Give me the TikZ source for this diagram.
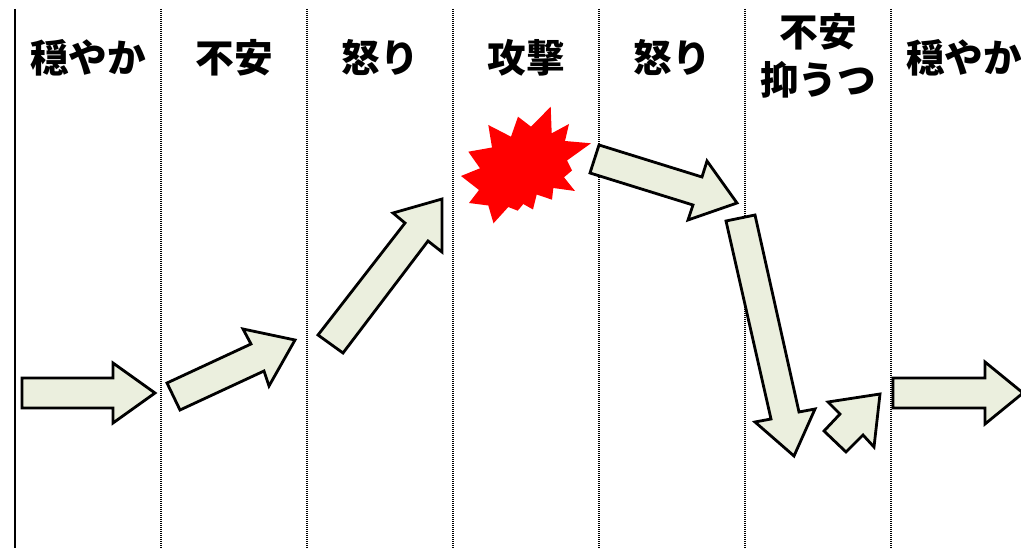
\documentclass[tikz,border=0pt]{standalone}
\usepackage{fontspec}
\newfontfamily\jpfont{Noto Sans CJK JP}
\definecolor{arrowfill}{RGB}{235,239,222}
\begin{document}
\begin{tikzpicture}[x=0.75pt,y=-0.75pt,
  blockarrow/.style={draw=black,fill=arrowfill,line width=2.1pt,line join=miter},
  divider/.style={line width=1.6pt,dash pattern=on 0.75pt off 0.75pt,black},
  header/.style={font=\jpfont\bfseries\fontsize{29}{36}\selectfont,align=center,inner sep=0pt}]
\useasboundingbox (0,0) rectangle (1021,548);
\clip (0,0) rectangle (1021,548);
% column dividers
\draw[line width=1.6pt] (15,9) -- (15,548);
\foreach \x in {161,307,453,599,745,891}{
  \draw[divider] (\x,9) -- (\x,548);
}
% headers
\node[header] (h1) at (88,58) {穏やか};
\node[header] (h2) at (234,58) {不安};
\node[header] (h3) at (380,58) {怒り};
\node[header] (h4) at (526,58) {攻撃};
\node[header] (h5) at (672,58) {怒り};
\node[header] (h6) at (818,56) {不安\\抑うつ};
\node[header] (h7) at (964,58) {穏やか};
% explosion
\fill[red] (550.7,106.7) -- (551.7,133.3) -- (569,124) -- (565,141) -- (591,143.3)
  -- (567,160.5) -- (572,170.5) -- (564,177.3) -- (575,191) -- (553.3,188)
  -- (552,199.7) -- (536.7,194.5) -- (533,209.5) -- (523.3,204) -- (517.7,210.7)
  -- (508.3,207) -- (493.5,223.3) -- (488.3,205.5) -- (469,203) -- (479,190)
  -- (461,176) -- (480,168.3) -- (468.3,151.7) -- (492,147.5) -- (488.3,125)
  -- (511,136.7) -- (518,116.7) -- (531,126.7) -- cycle;
% block arrows
\draw[blockarrow] (22,378) -- (113,378) -- (113,363) -- (155,393) -- (113,423) -- (113,408) -- (22,408) -- cycle;
\draw[blockarrow] (167,383) -- (251,344) -- (243,329) -- (295,340) -- (269,386) -- (264,371) -- (180,410) -- cycle;
\draw[blockarrow] (318,335) -- (405,223) -- (393,213) -- (442,199) -- (442,252) -- (428,241) -- (343,353) -- cycle;
\draw[blockarrow] (599,145) -- (702,177) -- (707,161) -- (737,203) -- (688,220) -- (693,205) -- (590,173) -- cycle;
\draw[blockarrow] (726,221) -- (755,215) -- (799,412) -- (815,409) -- (794,456) -- (755,422) -- (771,419) -- cycle;
\draw[blockarrow] (828,402) -- (880,394) -- (874,447) -- (863,435) -- (846,452) -- (824,431) -- (840,414) -- cycle;
\draw[blockarrow] (893,378) -- (985,378) -- (985,362) -- (1023,393) -- (985,424) -- (985,408) -- (893,408) -- cycle;
\end{tikzpicture}
\end{document}
